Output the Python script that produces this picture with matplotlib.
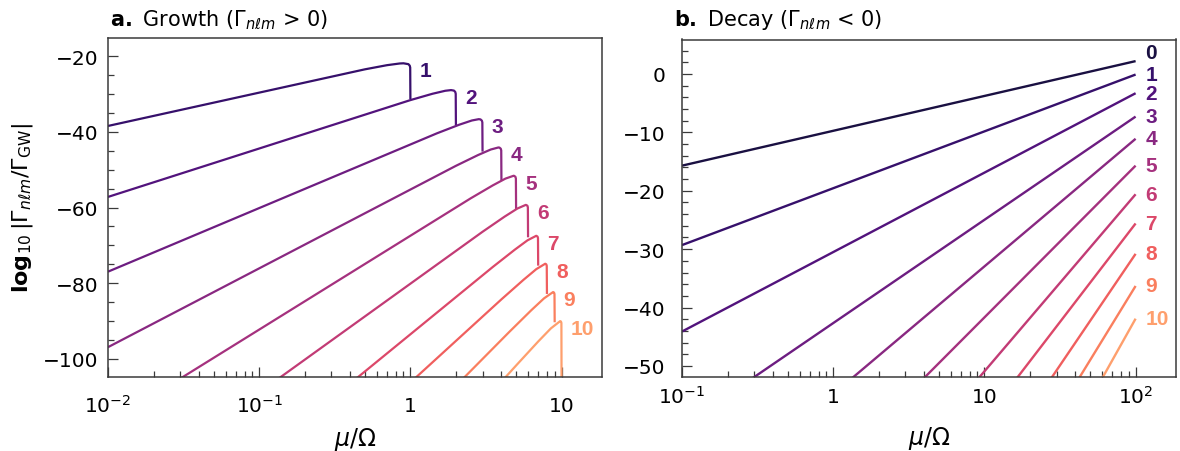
import numpy as np
import matplotlib
matplotlib.use('Agg')
import matplotlib.pyplot as plt
from matplotlib.ticker import LogLocator, MultipleLocator, NullFormatter

plt.rcParams['font.family'] = ['DejaVu Sans']
plt.rcParams['mathtext.fontset'] = 'dejavusans'
plt.rcParams['axes.unicode_minus'] = True

# ---------------- data ----------------
growth_m = [1, 2, 3, 4, 5, 6, 7, 8, 9, 10]
growth_mu = [
    [0.01, 0.5, 0.7, 0.85, 0.9, 0.97, 0.99, 0.997, 1.0],
    [0.01, 1.0, 1.4, 1.7, 1.857, 1.94, 1.98, 1.994, 2.0],
    [0.01, 1.5, 2.1, 2.55, 2.833, 2.91, 2.97, 2.991, 3.0],
    [0.01, 2.0, 2.8, 3.4, 3.818, 3.88, 3.96, 3.988, 4.0],
    [0.01, 2.5, 3.5, 4.25, 4.808, 4.85, 4.95, 4.985, 5.0],
    [0.1, 3.0, 4.2, 5.1, 5.8, 5.94, 5.982, 6.0],
    [0.3, 3.5, 4.9, 5.95, 6.794, 6.93, 6.979, 7.0],
    [0.8, 4.0, 5.6, 6.8, 7.789, 7.92, 7.976, 8.0],
    [1.8, 4.5, 6.3, 7.65, 8.786, 8.91, 8.973, 9.0],
    [3.5, 5.0, 7.0, 8.5, 9.783, 9.9, 9.97, 10.0],
]
growth_rate = [
    [-38.4, -23.4, -22.3, -21.85, -21.8, -22.03, -22.43, -22.92, -31.3],
    [-57.2, -31.55, -29.87, -29.08, -28.9, -29.03, -29.39, -29.88, -38.2],
    [-77.0, -40.34, -38.08, -36.95, -36.6, -36.67, -37.0, -37.47, -45.2],
    [-97.0, -48.96, -46.11, -44.64, -44.1, -44.13, -44.43, -44.88, -52.9],
    [-117.2, -57.59, -54.16, -52.35, -51.6, -51.61, -51.87, -52.32, -60.4],
    [-109.0, -66.43, -62.41, -60.27, -59.3, -59.52, -59.96, -67.9],
    [-110.7, -75.78, -71.18, -68.69, -67.5, -67.69, -68.11, -75.4],
    [-109.9, -84.33, -79.15, -76.33, -74.9, -75.05, -75.46, -82.9],
    [-109.1, -92.99, -87.22, -84.07, -82.4, -82.53, -82.92, -90.4],
    [-108.7, -101.86, -95.5, -92.01, -90.1, -90.2, -90.59, -112.0],
]

decay_m = [0, 1, 2, 3, 4, 5, 6, 7, 8, 9, 10]
decay_mu = [
    [0.1, 100], [0.1, 100], [0.1, 100], [0.26, 100], [1.21, 100],
    [3.67, 100], [8.54, 100], [15.4, 100], [26.2, 100], [40.2, 100],
    [57.5, 100],
]
decay_rate = [
    [-15.7, 2.2], [-29.3, -0.1], [-44.1, -3.3], [-53.0, -7.3], [-53.0, -11.1],
    [-53.0, -15.7], [-53.0, -20.6], [-53.0, -25.6], [-53.0, -30.8],
    [-53.0, -36.3], [-53.0, -41.9],
]

growth_xticks = [0.01, 0.1, 1, 10]
growth_xticklabels = [r'$10^{-2}$', r'$10^{-1}$', '1', '10']
decay_xticks = [0.1, 1, 10, 100]
decay_xticklabels = [r'$10^{-1}$', '1', '10', r'$10^{2}$']
growth_yticks = [-100, -80, -60, -40, -20]
decay_yticks = [-50, -40, -30, -20, -10, 0]

# ---------------- styling ----------------
cmap = plt.get_cmap('magma')
colors = [cmap(v) for v in np.linspace(0.12, 0.80, 11)]
spine_col = '#3a3a3a'
LW = 1.6
LABEL_FONT = dict(family=['Liberation Sans', 'DejaVu Sans'], size=15, weight='bold')

fig = plt.figure(figsize=(11.8, 4.52), dpi=100)
axL = fig.add_axes([108 / 1180, 1 - 378 / 452, 494 / 1180, 339 / 452])
axR = fig.add_axes([682 / 1180, 1 - 377.5 / 452, 494 / 1180, 337 / 452])


def style(ax, xticks, xlabels, yticks, yminor, xpad, ypad):
    ax.set_xscale('log')
    ax.set_xticks(xticks, labels=xlabels)
    ax.xaxis.set_minor_locator(LogLocator(base=10, subs=np.arange(2, 10)))
    ax.xaxis.set_minor_formatter(NullFormatter())
    ax.set_yticks(yticks)
    ax.yaxis.set_minor_locator(MultipleLocator(yminor))
    ax.tick_params(which='both', direction='in', top=False, right=False,
                   color=spine_col, width=0.9, labelsize=14.5)
    ax.tick_params(which='major', length=7)
    ax.tick_params(which='minor', length=4.5)
    ax.tick_params(axis='x', which='major', pad=xpad)
    ax.tick_params(axis='y', which='major', pad=ypad)
    for lab in ax.get_xticklabels():
        lab.set_verticalalignment('baseline')
    for s in ax.spines.values():
        s.set_color(spine_col)
        s.set_linewidth(1.1)
    ax.set_xlabel(r'$\mu/\Omega$', fontsize=17)
    ax.xaxis.set_label_coords(0.5, -0.142)
    ax.xaxis.label.set_verticalalignment('top')


# ---- panel a ----
for m, xs, ys in zip(growth_m, growth_mu, growth_rate):
    axL.plot(xs, ys, color=colors[m], lw=LW, solid_capstyle='butt')
    axL.annotate(str(m), xy=(m, max(ys)), xytext=(6.5, -5.4),
                 textcoords='offset points', ha='left', va='center',
                 color=colors[m], annotation_clip=False, **LABEL_FONT)
axL.set_xlim(0.01, 18.5)
axL.set_ylim(-104.9, -15.1)
style(axL, growth_xticks, growth_xticklabels, growth_yticks, 5, 24.7, 7.2)

# ---- panel b ----
for m, xs, ys in zip(decay_m, decay_mu, decay_rate):
    axR.plot(xs, ys, color=colors[m], lw=LW + 0.1, solid_capstyle='butt')
    dy = 6 if m == 0 else 0
    axR.annotate(str(m), xy=(xs[-1], ys[-1]), xytext=(7, dy),
                 textcoords='offset points', ha='left', va='center',
                 color=colors[m], annotation_clip=False, **LABEL_FONT)
axR.set_xlim(0.1, 185)
axR.set_ylim(-51.8, 5.9)
style(axR, decay_xticks, decay_xticklabels, decay_yticks, 2, 18.7, 12.2)

# ---- titles & y label ----
fig.text(110 / 1180, 1 - 26 / 452,
         r'$\mathbf{a.}$ Growth ($\Gamma_{n\ell m}$ > 0)',
         fontsize=15, va='baseline', ha='left')
fig.text(674 / 1180, 1 - 26 / 452,
         r'$\mathbf{b.}$ Decay ($\Gamma_{n\ell m}$ < 0)',
         fontsize=15, va='baseline', ha='left')
fig.text(23 / 1180, 1 - 208 / 452,
         r'$\mathbf{log}_{10}\,|\Gamma_{n\ell m}/\Gamma_{\rm GW}|$',
         fontsize=16, rotation=90, ha='center', va='center')

fig.savefig('out.png', dpi=100)
